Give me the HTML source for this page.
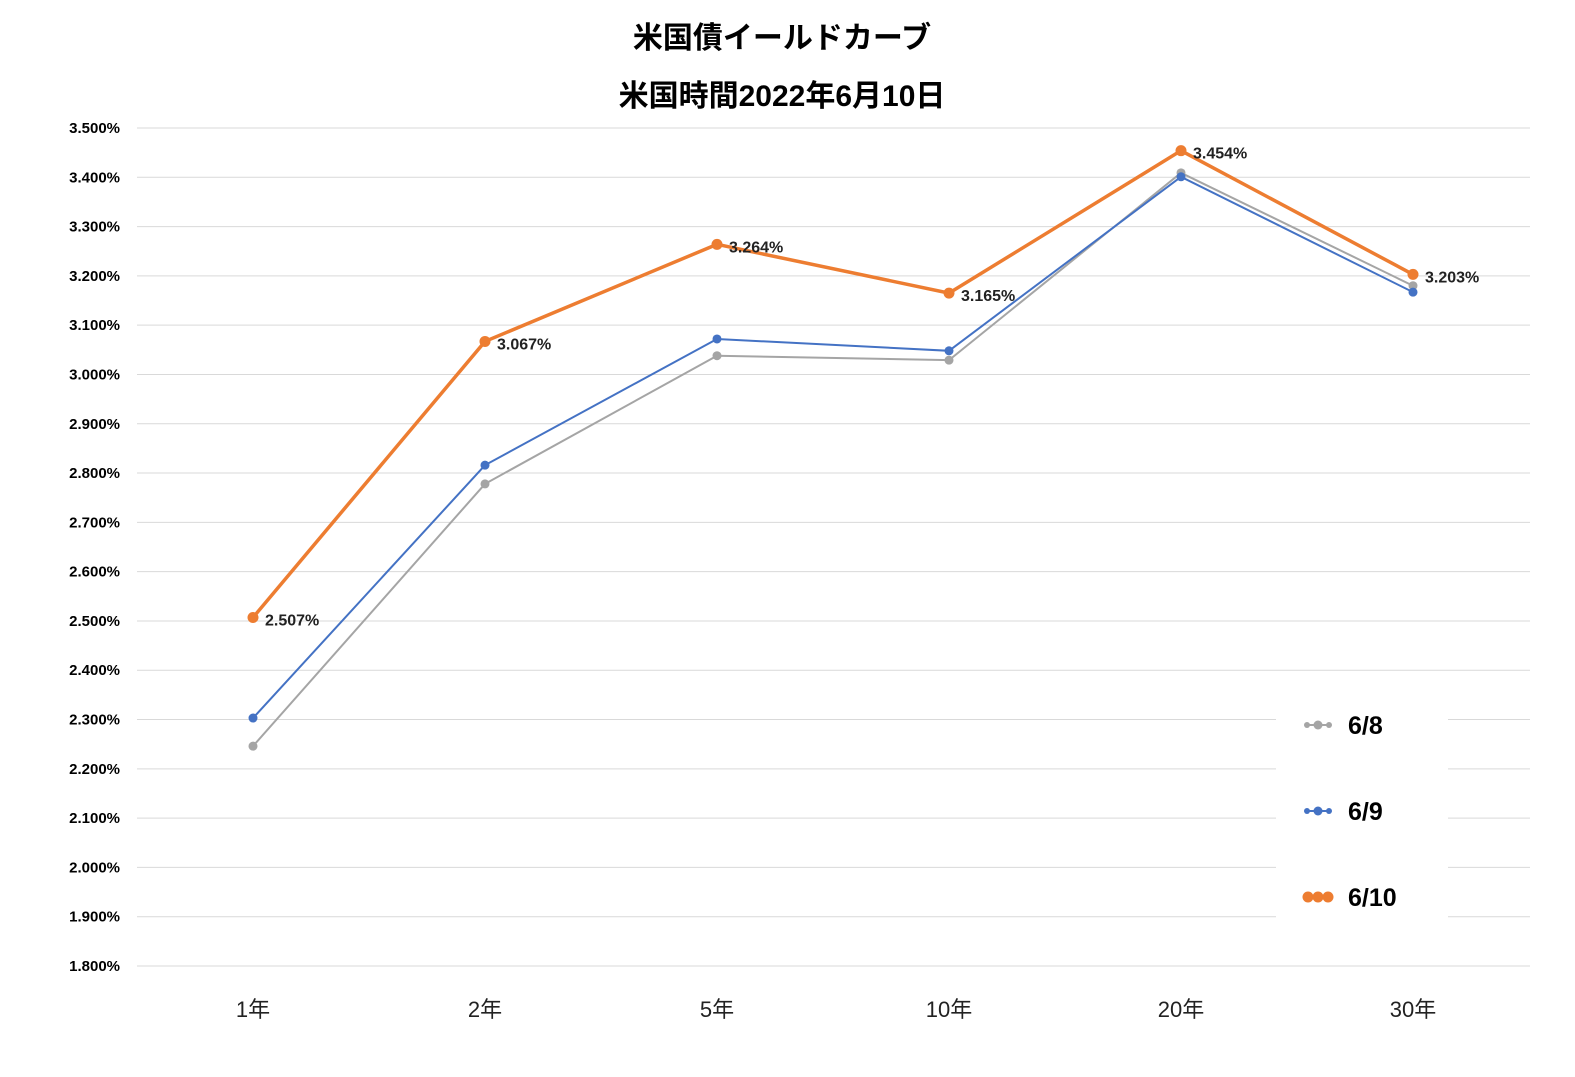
<!DOCTYPE html>
<html><head><meta charset="utf-8"><style>
body{margin:0;background:#fff;}
svg text{font-family:"Liberation Sans","Noto Sans CJK JP",sans-serif;}
</style></head><body>
<svg id="chart" width="1575" height="1072" xmlns="http://www.w3.org/2000/svg">
<rect width="1575" height="1072" fill="#fff"/>
<text x="782" y="48" text-anchor="middle" font-size="30" font-weight="bold" fill="#000">米国債イールドカーブ</text>
<text x="782" y="106" text-anchor="middle" font-size="30" font-weight="bold" fill="#000">米国時間2022年6月10日</text>
<g id="grid"></g><g id="yt"></g><g id="xt"></g><g id="series"></g>
<g>
<rect x="1276" y="695" width="172" height="230" fill="#fff"/>
<g>
<line x1="1306" y1="725" x2="1330" y2="725" stroke="#a5a5a5" stroke-width="2"/>
<circle cx="1307" cy="725" r="3" fill="#a5a5a5"/><circle cx="1318" cy="725" r="4.5" fill="#a5a5a5"/><circle cx="1329" cy="725" r="3" fill="#a5a5a5"/>
<text x="1348" y="734" font-size="25" font-weight="bold">6/8</text></g>
<g>
<line x1="1306" y1="811" x2="1330" y2="811" stroke="#4472c4" stroke-width="2"/>
<circle cx="1307" cy="811" r="3" fill="#4472c4"/><circle cx="1318" cy="811" r="4.5" fill="#4472c4"/><circle cx="1329" cy="811" r="3" fill="#4472c4"/>
<text x="1348" y="820" font-size="25" font-weight="bold">6/9</text></g>
<g>
<line x1="1306" y1="897" x2="1330" y2="897" stroke="#ed7d31" stroke-width="3"/>
<circle cx="1308" cy="897" r="5.5" fill="#ed7d31"/><circle cx="1318" cy="897" r="5.5" fill="#ed7d31"/><circle cx="1328" cy="897" r="5.5" fill="#ed7d31"/>
<text x="1348" y="906" font-size="25" font-weight="bold">6/10</text></g>
</g>
</svg>
<script>
const categories=["1年","2年","5年","10年","20年","30年"];
const s68=[2.246,2.778,3.038,3.029,3.409,3.180];
const s69=[2.303,2.816,3.072,3.048,3.401,3.167];
const s610=[2.507,3.067,3.264,3.165,3.454,3.203];
const yTicks=[1.8,1.9,2.0,2.1,2.2,2.3,2.4,2.5,2.6,2.7,2.8,2.9,3.0,3.1,3.2,3.3,3.4,3.5];
const NS="http://www.w3.org/2000/svg";
const x=i=>253+i*232;
const y=v=>128+(3.5-v)/1.7*838;
function mk(tag,attrs,parent){const e=document.createElementNS(NS,tag);for(const k in attrs)e.setAttribute(k,attrs[k]);parent.appendChild(e);return e;}
const grid=document.getElementById('grid'),yt=document.getElementById('yt'),xt=document.getElementById('xt'),ser=document.getElementById('series');
yTicks.forEach(v=>{
 const l=mk('line',{x1:137,x2:1530,y1:y(v),y2:y(v),stroke:'#d9d9d9','stroke-width':1},grid);
 
 
 const t=mk('text',{x:120,y:y(v)+5,'text-anchor':'end','font-size':15,'font-weight':'bold',fill:'#000'},yt);
 t.textContent=v.toFixed(3)+'%';
 
 
});
categories.forEach((c,i)=>{
 const t=mk('text',{x:x(i),y:1017,'text-anchor':'middle','font-size':22,fill:'#222'},xt);
 t.textContent=c;
 
 
});
function series(vals,color,w,r,name,labels){
 const g=mk('g',{},ser);
 
 
 const p=mk('polyline',{points:vals.map((v,i)=>x(i)+','+y(v)).join(' '),fill:'none',stroke:color,'stroke-width':w},g);
 
 
 vals.forEach((v,i)=>{
  const c=mk('circle',{cx:x(i),cy:y(v),r:r,fill:color},g);
  
  
  if(labels){
   const t=mk('text',{x:x(i)+12,y:y(v)+8,'font-size':16,'font-weight':'bold',fill:'#222'},g);
   t.textContent=v.toFixed(3)+'%';
   
   
  }
 });
}
series(s68,'#a5a5a5',2,4.5,'series-6-8',false);
series(s69,'#4472c4',2,4.5,'series-6-9',false);
series(s610,'#ed7d31',3.5,5.5,'series-6-10',true);
</script>
</body></html>
